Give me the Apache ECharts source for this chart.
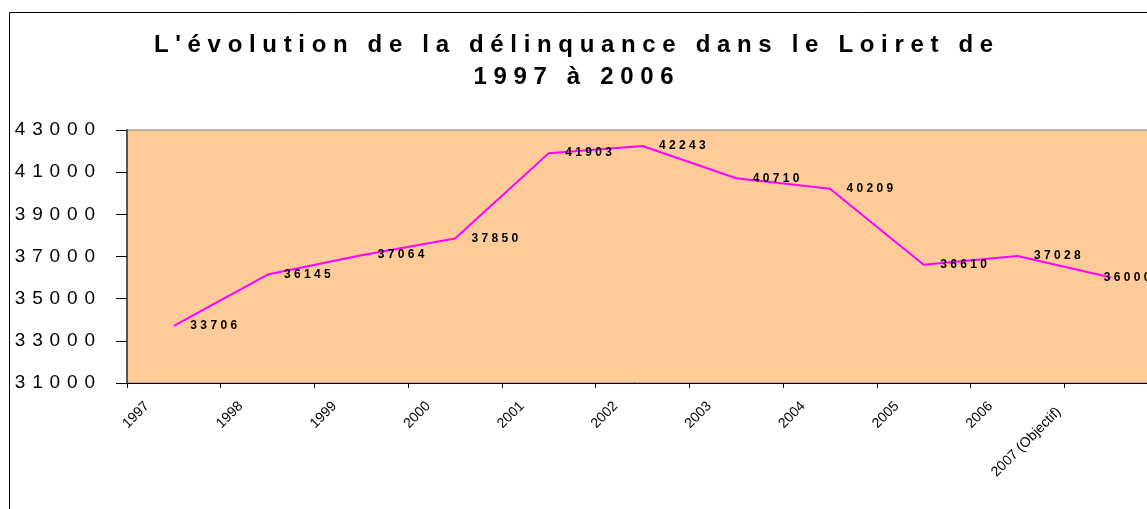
<!DOCTYPE html>
<html>
<head>
<meta charset="utf-8">
<script src="https://cdn.jsdelivr.net/npm/echarts@6/dist/echarts.min.js"></script>
<style>
  html, body { margin: 0; padding: 0; background: #fff; }
  #main { width: 1147px; height: 509px; }
</style>
</head>
<body>
<div id="main"></div>
<script>
var years = ['1997', '1998', '1999', '2000', '2001', '2002', '2003', '2004', '2005', '2006', '2007 (Objectif)'];
var faits = [33706, 36145, 37064, 37850, 41903, 42243, 40710, 40209, 36610, 37028, 36000];
var yTicks = { min: 31000, max: 43000, step: 2000 };
var titre = "L'évolution de la délinquance dans le Loiret de\n1997 à 2006";

// spread letters out like the excel chart does
function spaced(s, sep) {
    sep = sep || ' ';
    return String(s).split('\n').map(function (l) { return l.split('').join(sep); }).join('\n');
}

// last label gets pushed back over the line (excel kept it inside the plot)
var serieData = faits.map(function (v, i) {
    if (i === faits.length - 1) {
        return { value: v, label: { offset: [-24, 0] } };
    }
    return v;
});

var myChart = echarts.init(document.getElementById('main'));

var option = {
    backgroundColor: '#ffffff',
    animation: false,
    title: {
        text: spaced(titre),
        left: 'center',
        top: 24,
        padding: [5, 0, 5, 20],
        textStyle: {
            fontFamily: 'Liberation Sans, Arial',
            fontSize: 24,
            fontWeight: 'bold',
            color: '#000',
            lineHeight: 32
        }
    },
    graphic: [{
        type: 'rect',
        shape: { x: 9.5, y: 12.5, width: 1300, height: 600 },
        style: { fill: 'none', stroke: '#000', lineWidth: 1 },
        silent: true
    }],
    grid: [{
        left: 127, top: 130, bottom: 126, width: 1031,
        outerBoundsMode: 'none',
        show: true,
        backgroundColor: '#FFCC99',
        borderColor: '#808080',
        borderWidth: 1
    }, {
        // only used to place the slanted year labels on the tick marks
        left: 147, top: 130, bottom: 126, width: 1031,
        outerBoundsMode: 'none',
        show: false
    }],
    xAxis: [{
        type: 'category',
        gridIndex: 0,
        data: years,
        boundaryGap: true,
        axisLine: { lineStyle: { color: '#000', width: 1 } },
        axisTick: { show: true, interval: 0, length: 5, inside: false, lineStyle: { color: '#000' } },
        axisLabel: { show: false },
        splitLine: { show: false }
    }, {
        type: 'category',
        gridIndex: 1,
        data: years.concat(['']),
        boundaryGap: false,
        axisLine: { show: false },
        axisTick: { show: false },
        splitLine: { show: false },
        axisLabel: {
            interval: 0,
            rotate: 45,
            margin: 21,
            fontFamily: 'Liberation Sans, Arial',
            fontSize: 14,
            color: '#000',
            formatter: function (v) {
                return v.indexOf('Objectif') >= 0 ? '{o|' + v + '}' : v;
            },
            rich: {
                o: { fontFamily: 'Liberation Sans, Arial', fontSize: 14, color: '#000', padding: [0, 22, 28, 0] }
            }
        }
    }],
    yAxis: [{
        type: 'value',
        gridIndex: 0,
        min: yTicks.min,
        max: yTicks.max,
        interval: yTicks.step,
        axisLine: { show: true, lineStyle: { color: '#555', width: 2 } },
        axisTick: { show: true, length: 11, lineStyle: { color: '#000' } },
        splitLine: { show: false },
        axisLabel: {
            margin: 32,
            fontFamily: 'Liberation Sans, Arial',
            fontSize: 19,
            color: '#000',
            formatter: function (v) { return spaced(v, ' \u200A'); }
        }
    }, {
        type: 'value',
        gridIndex: 1,
        show: false
    }],
    series: [{
        name: 'faits',
        type: 'line',
        xAxisIndex: 0,
        yAxisIndex: 0,
        data: serieData,
        showSymbol: true,
        symbol: 'circle',
        symbolSize: 1,
        itemStyle: { color: 'rgba(0,0,0,0)' },
        lineStyle: { color: '#FF00FF', width: 2 },
        label: {
            show: true,
            position: 'right',
            distance: 16,
            fontFamily: 'Liberation Sans, Arial',
            fontSize: 12,
            fontWeight: 'bold',
            color: '#000',
            formatter: function (p) { return spaced(p.value); }
        }
    }]
};

myChart.setOption(option);
</script>
</body>
</html>
